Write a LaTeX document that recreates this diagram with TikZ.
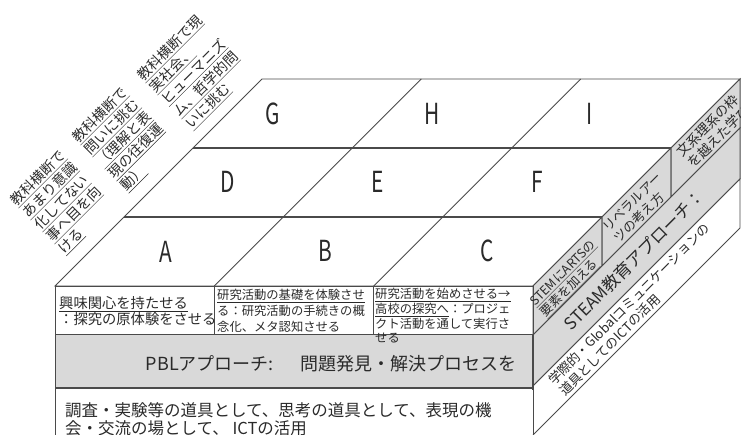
\documentclass[tikz,border=0pt]{standalone}
\usepackage{fontspec}
\setmainfont{Noto Sans CJK JP}
\definecolor{lc}{HTML}{4A4A4A}
\definecolor{tc}{HTML}{2A2A2A}
\definecolor{gf}{HTML}{D9D9D9}
\newcommand{\myfs}[2]{\fontsize{#1}{#2}\selectfont\lineskiplimit=-30pt\relax}
\begin{document}
\begin{tikzpicture}[x=1pt,y=-1pt,
  face/.style={draw=lc,line width=0.9pt},
  heavy/.style={draw=lc,line width=1.7pt},
  graybox/.style={fill=gf,draw=lc,line width=1pt},
  txt/.style={inner sep=0pt,text=tc,align=left},
  letter/.style={inner sep=0pt,text=tc,font=\myfs{29}{29},xscale=0.72},
]
\useasboundingbox (0,0) rectangle (742,435);

% ---------- top face ----------
\coordinate (tfl) at (55,286);
\coordinate (tfr) at (533,286);
\coordinate (tbr) at (740,79);
\coordinate (tbl) at (262,79);
\fill[white] (tfl) -- (tfr) -- (tbr) -- (tbl) -- cycle;
\draw[face] (tfl) -- (tfr) -- (tbr) -- (tbl) -- cycle;
\coordinate (c1f) at (214.3,286); \coordinate (c1b) at (421.3,79);
\coordinate (c2f) at (373.7,286); \coordinate (c2b) at (580.7,79);
\draw[face] (c1f) -- (c1b);
\draw[face] (c2f) -- (c2b);
\coordinate (r1l) at (124,217); \coordinate (r1r) at (602,217);
\coordinate (r2l) at (193,148); \coordinate (r2r) at (671,148);
\draw[heavy] (r1l) -- (r1r);
\draw[heavy] (r2l) -- (r2r);

% ---------- side face ----------
\coordinate (s1) at (602,266);
\coordinate (s2) at (671,197);
\coordinate (s3) at (740,128);
\coordinate (sf1) at (533,335);
\draw[graybox] (tfr) -- (r1r) -- (s1) -- (sf1) -- cycle;
\draw[graybox] (r1r) -- (r2r) -- (s2) -- (s1) -- cycle;
\draw[graybox] (r2r) -- (tbr) -- (s3) -- (s2) -- cycle;
\coordinate (sg1) at (533,386);
\coordinate (sg2) at (740,179);
\draw[graybox] (sf1) -- (s3) -- (sg2) -- (sg1) -- cycle;
\coordinate (sw1) at (533,435);
\coordinate (sw2) at (740,228);
\draw[face,fill=white] (sg1) -- (sg2) -- (sw2) -- (sw1);

% ---------- front face ----------
\draw[face] (55,286) rectangle (533,335);
\draw[face] (214.3,286) -- (214.3,335);
\draw[face] (373.7,286) -- (373.7,335);
\draw[graybox] (55,335) rectangle (533,388);
\draw[face] (55,436) -- (55,388) -- (533,388) -- (533,436);
\draw[heavy] (533,335) -- (533,390);

% ---------- letters ----------
\node[letter] (lA) at (166,252) {A};
\node[letter] (lB) at (325,251) {B};
\node[letter] (lC) at (487,251) {C};
\node[letter] (lD) at (228,182) {D};
\node[letter] (lE) at (378,182) {E};
\node[letter] (lF) at (537,182) {F};
\node[letter] (lG) at (273,114) {G};
\node[letter] (lH) at (432,114) {H};
\node[letter] (lI) at (590,114) {I};

% ---------- front texts ----------
\node[txt,anchor=north west,font=\myfs{14.3}{16}] (tA) at (59,296)
  {\underline{興味関心を持たせる}\\：探究の原体験をさせる};
\node[txt,anchor=north west,font=\myfs{12.3}{16}] (tB) at (217,289)
  {\underline{研究活動の基礎を体験させ}\\る：研究活動の手続きの概\\念化、メタ認知させる};
\node[txt,anchor=north west,font=\myfs{12.3}{14.8}] (tC) at (375,288)
  {\underline{研究活動を始めさせる→}\\\underline{高校の探究へ}：プロジェ\\クト活動を通して実行さ\\せる};
\node[txt,anchor=east,font=\myfs{18}{18}] (pbl) at (517,364)
  {PBLアプローチ:\hspace{1.5em}問題発見・解決プロセスを};
\node[txt,anchor=north west,font=\myfs{16.5}{18}] (ict) at (65,402)
  {調査・実験等の道具として、思考の道具として、表現の機\\会・交流の場として、 ICTの活用};

% ---------- side texts ----------
\node[txt,rotate=45,font=\myfs{12.5}{15}] (stem) at (569,279)
  {\underline{STEMにARTSの}\\\underline{要素を加える}};
\node[txt,rotate=45,font=\myfs{13}{15.5}] (lib) at (638,208)
  {リベラルアー\\ツの考え方};
\begin{scope}
  \clip (r2r) -- (tbr) -- (s3) -- (s2) -- cycle;
  \node[txt,rotate=45,font=\myfs{13.5}{15.5}] (bun) at (713,131)
    {文系理系の枠\\を越えた学び};
\end{scope}
\node[txt,rotate=45,font=\myfs{17}{17}] (steam) at (634,260)
  {STEAM教育アプローチ：};
\node[txt,rotate=45,anchor=north west,font=\myfs{13}{15.5}] (glob) at (546,378)
  {学際的・Globalコミュニケーションの\\道具としてのICTの活用};

% ---------- upper-left labels ----------
\node[txt,rotate=45,anchor=north west,font=\myfs{14}{17}] (lbl1) at (8,198)
  {\underline{教科横断で}\\\underline{あまり意識}\\\underline{化してない}\\\underline{事へ目を向}\\\underline{ける}};
\node[txt,rotate=45,anchor=north west,font=\myfs{14}{17}] (lbl2) at (70,135)
  {\underline{教科横断で}\\\underline{問いに挑む}\\\underline{（理解と表}\\\underline{現の往復運}\\\underline{動）}};
\node[txt,rotate=45,anchor=north west,font=\myfs{14}{17}] (lbl3) at (135,73)
  {\underline{教科横断で現}\\\underline{実社会、}\\\underline{ヒューマニズ}\\\underline{ム、哲学的問}\\\underline{いに挑む}};
\end{tikzpicture}
\end{document}
